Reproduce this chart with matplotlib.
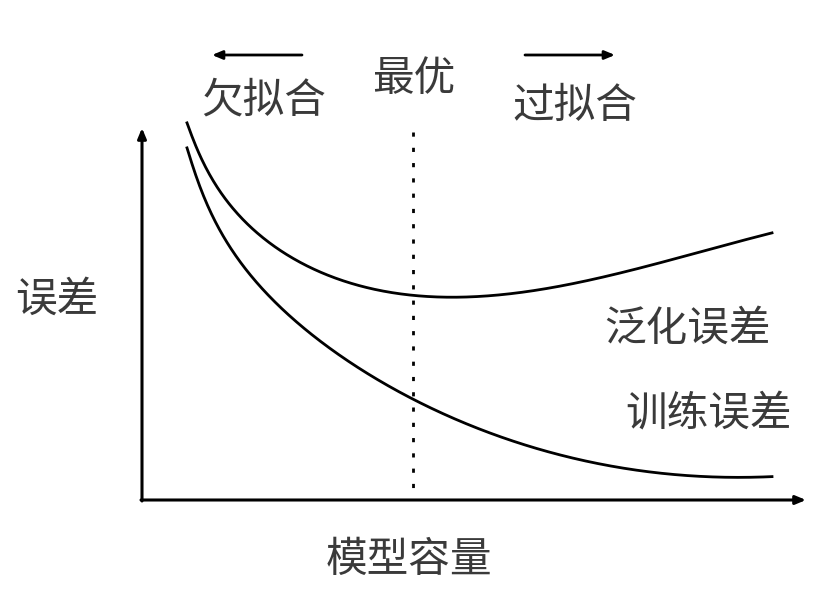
import matplotlib
matplotlib.use("Agg")
import matplotlib.pyplot as plt
import numpy as np

plt.rcParams['font.family'] = ['Noto Sans CJK SC', 'DejaVu Sans']

# Curves (pixel-like coordinates of the schematic, y downward)
gen_x = [187, 200, 213, 230, 247, 267, 290, 323, 357, 390, 415, 450, 500, 550, 600, 650, 700, 733, 772]
gen_y = [123, 155, 181, 205, 224, 240, 257, 273, 285, 292, 296, 297, 295, 288, 278, 265, 252, 243, 233]
train_x = [187, 200, 213, 230, 247, 280, 323, 357, 390, 415, 467, 533, 600, 667, 733, 772]
train_y = [148, 186, 219, 246, 270, 308, 343, 367, 387, 400, 423, 448, 465, 473, 477, 477]

labels = {
    "under": "欠拟合", "opt": "最优", "over": "过拟合",
    "ylabel": "误差", "xlabel": "模型容量",
    "gen": "泛化误差", "train": "训练误差",
}

fig = plt.figure(figsize=(8.19, 5.95), dpi=100)
ax = fig.add_axes([0, 0, 1, 1])
ax.set_xlim(0, 819)
ax.set_ylim(595, 0)
ax.axis('off')


def smooth_fit(xs, ys, x0=160.0, n=600):
    """Least-squares smoothing through the read points (draws a clean curve)."""
    x = np.asarray(xs, float); y = np.asarray(ys, float)
    def basis(v):
        u = (v - 450.0) / 300.0
        return np.column_stack([np.ones_like(v), u, u**2, u**3,
                                100.0 / (v - x0), (100.0 / (v - x0))**2])
    coef, *_ = np.linalg.lstsq(basis(x), y, rcond=None)
    t = np.linspace(x[0], x[-1], n)
    return t, basis(t) @ coef


gx, gy = smooth_fit(gen_x, gen_y)
tx, ty = smooth_fit(train_x, train_y)
ax.plot(gx, gy, color='black', lw=2.0)
ax.plot(tx, ty, color='black', lw=2.0)

head = dict(arrowstyle='-|>,head_length=0.6,head_width=0.25', color='black', shrinkA=0, shrinkB=0)
# Axes arrows
ax.annotate('', xy=(142, 128), xytext=(142, 501), arrowprops=dict(head, lw=2.2))
ax.annotate('', xy=(806, 500), xytext=(141, 500), arrowprops=dict(head, lw=2.2))

# Optimal dotted line
ax.plot([413, 413], [132, 500], color='black', lw=2.0, linestyle=(0, (1.5, 4)))

# Top arrows
ax.annotate('', xy=(212, 55), xytext=(302, 55), arrowprops=dict(head, lw=2.0))
ax.annotate('', xy=(615, 55), xytext=(525, 55), arrowprops=dict(head, lw=2.0))

fs = 30
tc = '#3a3a3a'
kw = dict(fontsize=fs, ha='center', va='center', color=tc, fontweight='light')
ax.text(264, 101, labels["under"], **kw)
ax.text(414, 80, labels["opt"], **kw)
ax.text(575, 106, labels["over"], **kw)
ax.text(57, 300, labels["ylabel"], **kw)
ax.text(688, 329, labels["gen"], **kw)
ax.text(709, 414, labels["train"], **kw)
ax.text(409, 560, labels["xlabel"], **kw)

fig.savefig('out.png', dpi=100)
